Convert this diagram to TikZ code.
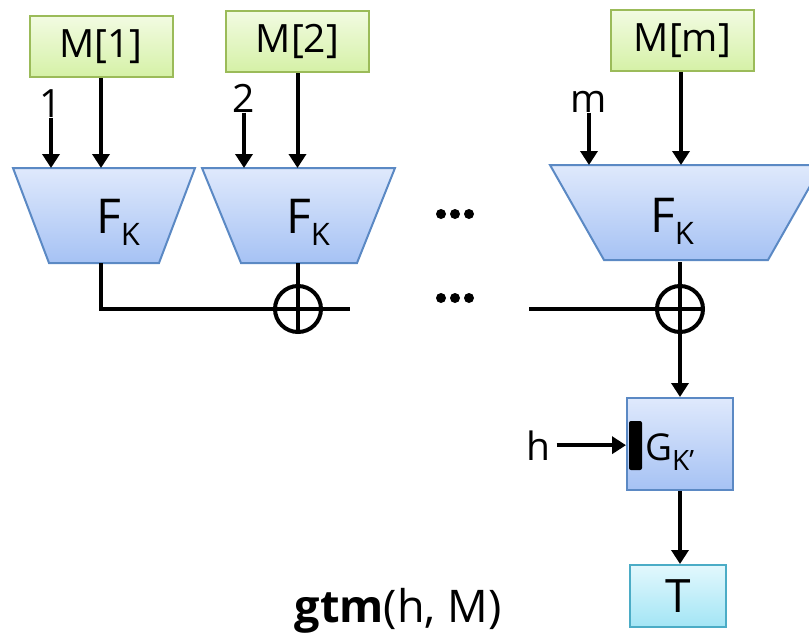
\documentclass[tikz,border=0pt]{standalone}
\usepackage{fontspec}
\setmainfont{Open Sans}
\usetikzlibrary{arrows.meta,shadings}
\definecolor{grnB}{HTML}{9BBB59}
\definecolor{grnT}{HTML}{F2FBE2}
\definecolor{grnL}{HTML}{D5F1A6}
\definecolor{bluB}{HTML}{5B89C4}
\definecolor{bluT}{HTML}{DFE9FC}
\definecolor{bluL}{HTML}{A6C2F4}
\definecolor{cyB}{HTML}{4BACC6}
\definecolor{cyT}{HTML}{E2F8FD}
\definecolor{cyL}{HTML}{A3E5F5}
\tikzset{
  mbox/.style={draw=grnB, line width=2pt, top color=grnT, bottom color=grnL,
    minimum width=143pt, minimum height=61pt, inner sep=0pt, font=\fontsize{39}{40}\selectfont},
  ftrap/.style={draw=bluB, line width=2pt, top color=bluT, bottom color=bluL},
  gbox/.style={draw=bluB, line width=2pt, top color=bluT, bottom color=bluL,
    minimum width=106pt, minimum height=92pt, inner sep=0pt},
  tbox/.style={draw=cyB, line width=2pt, top color=cyT, bottom color=cyL,
    minimum width=96pt, minimum height=62pt, inner sep=0pt, font=\fontsize{46}{46}\selectfont},
  wire/.style={line width=4pt},
  arr/.style={line width=4pt, -{Triangle[length=14pt,width=17pt]}},
  xorc/.style={circle, draw, line width=4pt, minimum size=46pt, inner sep=0pt},
  lbl/.style={inner sep=0.5pt, font=\fontsize{39}{40}\selectfont},
  fklbl/.style={inner sep=0pt},
  blackdot/.style={circle, fill=black, inner sep=0pt, minimum size=10pt},
}
\newcommand{\FK}{{\fontsize{48}{48}\selectfont F\raisebox{-12pt}{\fontsize{31}{31}\selectfont K}}}
\begin{document}
\begin{tikzpicture}[x=1pt,y=-1pt]
\useasboundingbox (0,0) rectangle (809,637);
% message blocks
\node[mbox] (m1) at (101,46.5) {M[1]};
\node[mbox] (m2) at (297.5,41.5) {M[2]};
\node[mbox] (mm) at (682.5,40.5) {M[m]};
% F trapezoids
\shadedraw[ftrap] (13,168) -- (195,168) -- (159,263) -- (49,263) -- cycle;
\shadedraw[ftrap] (202,168) -- (395,168) -- (357,263) -- (241,263) -- cycle;
\shadedraw[ftrap] (550,165) -- (822,165) -- (768,260) -- (604,260) -- cycle;
\coordinate (f1t) at (104,168);
\coordinate (f2t) at (298,168);
\coordinate (fmt) at (686,165);
\coordinate (f1b) at (101,263);
\coordinate (f2b) at (298,263);
\coordinate (fmb) at (680,262);
\node[fklbl, anchor=base] (fk1) at (118,233) {\FK};
\node[fklbl, anchor=base] (fk2) at (308,233) {\FK};
\node[fklbl, anchor=base] (fkm) at (672,232) {\FK};
% counter labels
\node[lbl, anchor=base] (n1) at (51,117) {1};
\node[lbl, anchor=base] (n2) at (244,112) {2};
\node[lbl, anchor=base] (nm) at (589,112) {m};
\draw[arr] (n1.south) -- (n1.south |- f1t);
\draw[arr] (n2.south) -- (n2.south |- f2t);
\draw[arr] (nm.south) -- (nm.south |- fmt);
\draw[arr] (m1.south) -- (m1.south |- f1t);
\draw[arr] (m2.south) -- (m2.south |- f2t);
\draw[arr] (mm.south -| 681,0) -- (681,165);
% dots
\node[blackdot] (d1) at (441,214) {};
\node[blackdot] (d2) at (455,214) {};
\node[blackdot] (d3) at (469,214) {};
\node[blackdot] (e1) at (441,298) {};
\node[blackdot] (e2) at (455,298) {};
\node[blackdot] (e3) at (469,298) {};
% xor chain
\node[xorc] (x2) at (298,309) {};
\node[xorc] (xm) at (680,309) {};
\coordinate (xend) at (350,309);
\coordinate (hl) at (529,309);
\draw[wire] (f1b) |- (xend);
\draw[wire] (f2b) -- (x2.south);
\draw[wire] (hl) -- (xm.east);
\draw[wire] (fmb) -- (xm.south);
% G block
\node[gbox] (g) at (680,444) {};
\node[fill=black, rounded corners=2pt, minimum width=13pt, minimum height=49pt, inner sep=0pt] (bar) at (635.5,445.5) {};
\node[fklbl, anchor=base west] (gk) at (645,460) {\fontsize{37}{37}\selectfont G\raisebox{-10pt}{\fontsize{28}{28}\selectfont K’}};
\draw[arr] (xm.south) -- (g.north);
\node[lbl, anchor=base] (h) at (538,460) {h};
\draw[arr] ([xshift=6pt]h.east) -- (h.east -| g.west);
% tag
\node[tbox] (t) at (678,596) {T};
\draw[arr] (g.south) -- (g.south |- t.north);
% caption
\node[inner sep=0pt, anchor=base, font=\fontsize{45}{45}\selectfont] (cap) at (398,622) {\textbf{gtm}(h, M)};
\end{tikzpicture}
\end{document}
